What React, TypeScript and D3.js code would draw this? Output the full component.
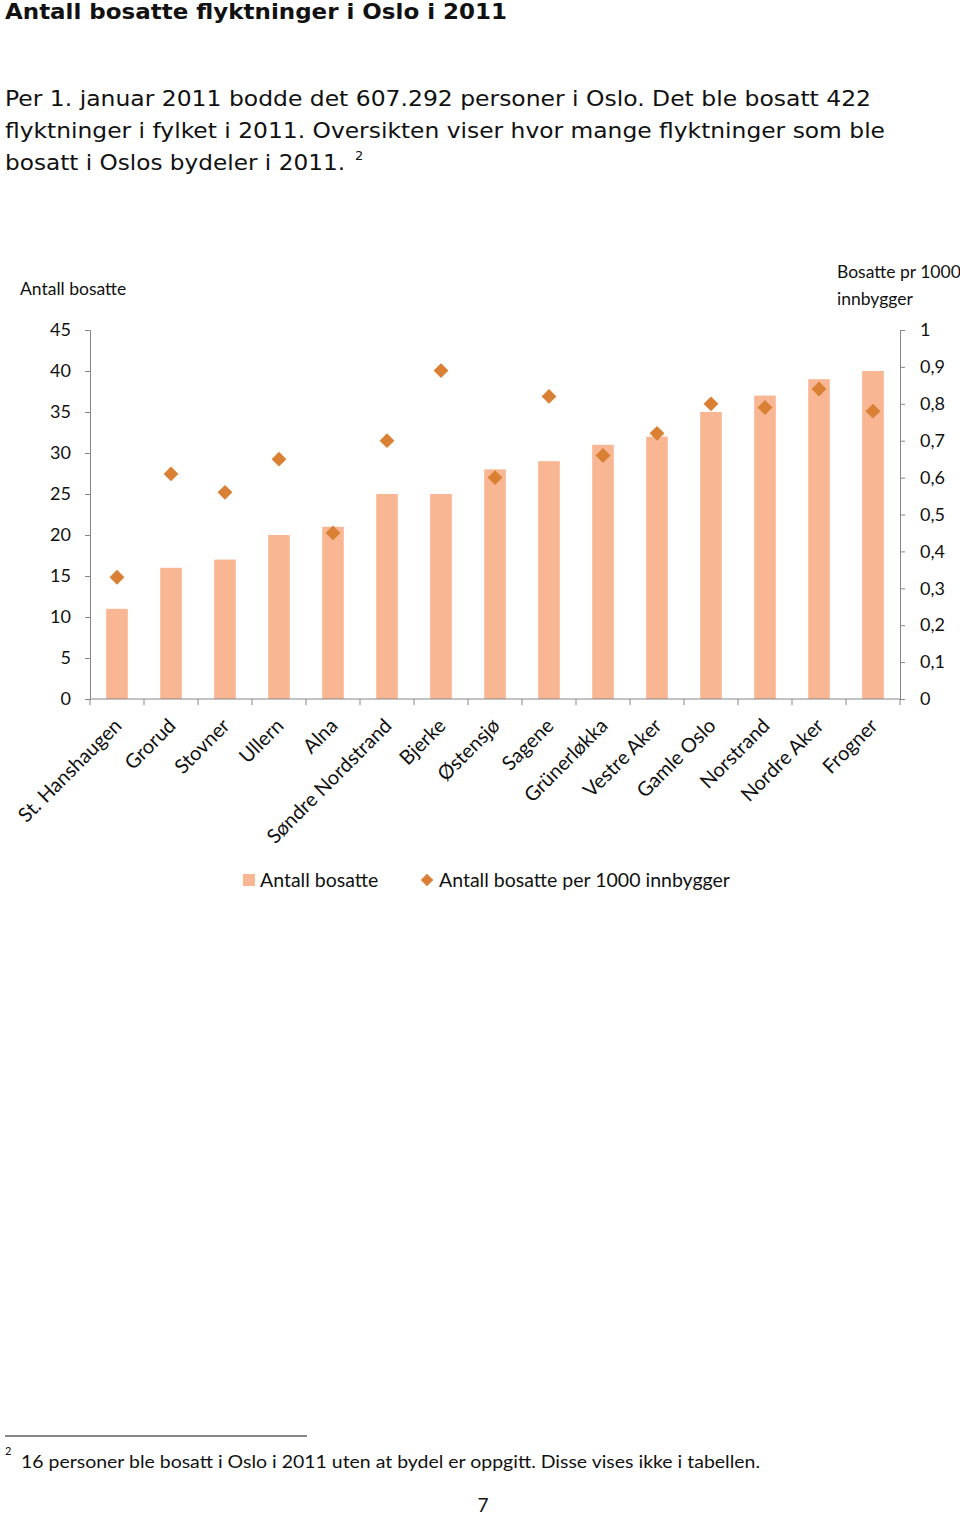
import React, { useEffect, useRef } from "react";
import { select, scaleBand, scaleLinear, axisLeft, axisRight, symbol, symbolSquare } from "d3";

const bydeler = [
  "St. Hanshaugen", "Grorud", "Stovner", "Ullern", "Alna", "Søndre Nordstrand", "Bjerke",
  "Østensjø", "Sagene", "Grünerløkka", "Vestre Aker", "Gamle Oslo", "Norstrand", "Nordre Aker", "Frogner",
];
const antallBosatte = [11, 16, 17, 20, 21, 25, 25, 28, 29, 31, 32, 35, 37, 39, 40];
const per1000 = [0.33, 0.61, 0.56, 0.65, 0.45, 0.7, 0.89, 0.6, 0.82, 0.66, 0.72, 0.8, 0.79, 0.84, 0.78];
const leftTicks = [0, 5, 10, 15, 20, 25, 30, 35, 40, 45];
const rightTicks = [0, 0.1, 0.2, 0.3, 0.4, 0.5, 0.6, 0.7, 0.8, 0.9, 1];

const paragraph = [
  "Per 1. januar 2011 bodde det 607.292 personer i Oslo. Det ble bosatt 422",
  "flyktninger i fylket i 2011. Oversikten viser hvor mange flyktninger som ble",
  "bosatt i Oslos bydeler i 2011.",
];
const paragraphWidths = [866, 880, 340];

const BAR = "#F8B692";
const DOT = "#D98035";
const AXIS = "#868686";
const CHART_FONT = "Lato, 'Open Sans', sans-serif";
const BODY_FONT = "'DejaVu Sans', Verdana, sans-serif";

const W = 960;
const H = 1515;

const Chart: React.FC = () => {
  const svgRef = useRef<SVGSVGElement>(null);
  const margin = { left: 90, right: 60, top: 330, bottom: 816 };

  useEffect(() => {
    const svg = select(svgRef.current).attr("width", W).attr("height", H).style("background", "white");
    svg.selectAll("*").remove();

    // page text
    svg
      .append("text")
      .attr("x", 5)
      .attr("y", 19)
      .attr("font-family", BODY_FONT)
      .attr("font-weight", "bold")
      .attr("font-size", 21)
      .attr("textLength", 502)
      .attr("lengthAdjust", "spacingAndGlyphs")
      .attr("fill", "#111")
      .text("Antall bosatte flyktninger i Oslo i 2011");

    svg
      .selectAll(".para")
      .data(paragraph)
      .join("text")
      .attr("class", "para")
      .attr("x", 5)
      .attr("y", (_, i) => 106 + i * 32)
      .attr("font-family", BODY_FONT)
      .attr("font-size", 21)
      .attr("textLength", (_, i) => paragraphWidths[i])
      .attr("lengthAdjust", "spacingAndGlyphs")
      .attr("fill", "#111")
      .text((d) => d);
    svg
      .append("text")
      .attr("x", 355)
      .attr("y", 160)
      .attr("font-family", BODY_FONT)
      .attr("font-size", 13)
      .attr("fill", "#111")
      .text("2");

    // chart
    const x = scaleBand()
      .domain(bydeler)
      .range([margin.left, W - margin.right])
      .paddingInner(0.6)
      .paddingOuter(0.3);
    const yL = scaleLinear().domain([0, 45]).range([699, margin.top]);
    const yR = scaleLinear().domain([0, 1]).range([699, margin.top]);

    svg
      .selectAll(".bar")
      .data(antallBosatte)
      .join("rect")
      .attr("class", "bar")
      .attr("fill", BAR)
      .attr("x", (_, i) => x(bydeler[i]) as number)
      .attr("width", x.bandwidth())
      .attr("y", (d) => yL(d))
      .attr("height", (d) => yL(0) - yL(d));

    const styleAxis = (g: any, anchor: string) => {
      g.select(".domain").attr("stroke", AXIS);
      g.selectAll(".tick line").attr("stroke", AXIS);
      g.selectAll(".tick text")
        .attr("font-family", CHART_FONT)
        .attr("font-size", 18)
        .attr("fill", "#111")
        .attr("text-anchor", anchor);
    };

    svg
      .append("g")
      .attr("transform", `translate(${margin.left},0)`)
      .call(axisLeft(yL).tickValues(leftTicks).tickSize(5).tickSizeOuter(5).tickPadding(14))
      .call((g: any) => styleAxis(g, "end"));

    svg
      .append("g")
      .attr("transform", `translate(${W - margin.right},0)`)
      .call(
        axisRight(yR)
          .tickValues(rightTicks)
          .tickSize(5)
          .tickSizeOuter(5)
          .tickPadding(15)
          .tickFormat((d) => String(+(+d).toFixed(1)).replace(".", ","))
      )
      .call((g: any) => styleAxis(g, "start"));

    // bottom axis: ticks at category boundaries
    const bottom = svg.append("g").attr("transform", `translate(0,${yL(0)})`);
    bottom.append("line").attr("x1", margin.left).attr("x2", W - margin.right).attr("stroke", AXIS);
    const step = x.step();
    bottom
      .selectAll(".bt")
      .data(bydeler.concat([""]))
      .join("line")
      .attr("class", "bt")
      .attr("x1", (_, i) => margin.left + i * step)
      .attr("x2", (_, i) => margin.left + i * step)
      .attr("y1", 0)
      .attr("y2", 6)
      .attr("stroke", AXIS);

    svg
      .selectAll(".xl")
      .data(bydeler)
      .join("text")
      .attr("class", "xl")
      .attr("font-family", CHART_FONT)
      .attr("font-size", 20)
      .attr("fill", "#111")
      .attr("text-anchor", "end")
      .attr("transform", (d) => `translate(${(x(d) as number) + x.bandwidth() / 2 + 6},${yL(0) + 28}) rotate(-45)`)
      .text((d) => d);

    const diamond = symbol(symbolSquare, 110);
    svg
      .selectAll(".pt")
      .data(per1000)
      .join("path")
      .attr("class", "pt")
      .attr("d", diamond as any)
      .attr("fill", DOT)
      .attr(
        "transform",
        (d, i) => `translate(${(x(bydeler[i]) as number) + x.bandwidth() / 2},${yR(d)}) rotate(45)`
      );

    // axis titles
    svg
      .append("text")
      .attr("x", 20)
      .attr("y", 295)
      .attr("font-family", CHART_FONT)
      .attr("font-size", 17.5)
      .attr("fill", "#111")
      .text("Antall bosatte");
    const rt = svg
      .append("text")
      .attr("font-family", CHART_FONT)
      .attr("font-size", 17.5)
      .attr("fill", "#111");
    rt.append("tspan").attr("x", 837).attr("y", 278).text("Bosatte pr 1000");
    rt.append("tspan").attr("x", 837).attr("y", 305).text("innbygger");

    // legend
    const lg = svg.append("g").attr("font-family", CHART_FONT).attr("font-size", 19.5).attr("fill", "#111");
    lg.append("rect").attr("x", 243).attr("y", 874).attr("width", 12).attr("height", 12).attr("fill", BAR);
    lg.append("text").attr("x", 260).attr("y", 887).text("Antall bosatte");
    lg.append("path")
      .attr("d", symbol(symbolSquare, 80) as any)
      .attr("fill", DOT)
      .attr("transform", "translate(427,880) rotate(45)");
    lg.append("text").attr("x", 439).attr("y", 887).text("Antall bosatte per 1000 innbygger");

    // footnote
    svg.append("line").attr("x1", 5).attr("x2", 307).attr("y1", 1436).attr("y2", 1436).attr("stroke", "#111");
    svg
      .append("text")
      .attr("x", 5)
      .attr("y", 1455)
      .attr("font-family", CHART_FONT)
      .attr("font-size", 11)
      .attr("fill", "#111")
      .text("2");
    svg
      .append("text")
      .attr("x", 21)
      .attr("y", 1468)
      .attr("font-family", CHART_FONT)
      .attr("font-size", 18)
      .attr("textLength", 739)
      .attr("lengthAdjust", "spacingAndGlyphs")
      .attr("fill", "#111")
      .text("16 personer ble bosatt i Oslo i 2011 uten at bydel er oppgitt. Disse vises ikke i tabellen.");
    svg
      .append("text")
      .attr("x", 483)
      .attr("y", 1512)
      .attr("text-anchor", "middle")
      .attr("font-family", CHART_FONT)
      .attr("font-size", 19)
      .attr("fill", "#111")
      .text("7");
  }, []);

  return <svg ref={svgRef} style={{ position: "absolute", left: 0, top: 0 }} />;
};

export default function App() {
  return <Chart />;
}
